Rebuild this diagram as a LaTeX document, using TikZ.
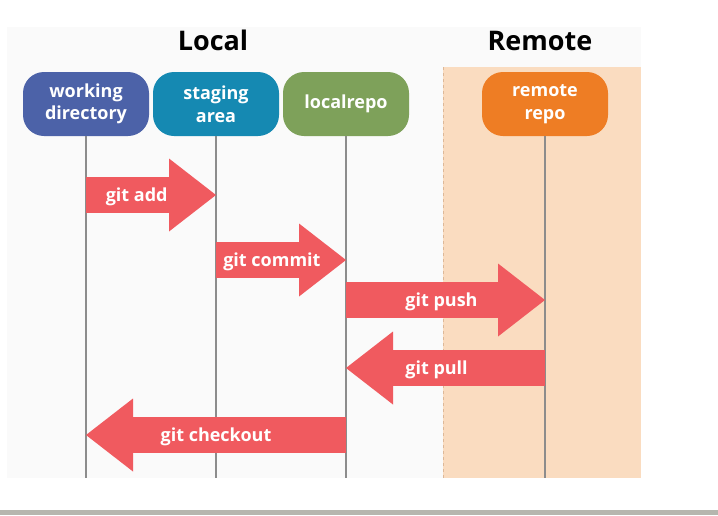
\documentclass[tikz,border=0pt]{standalone}
\usepackage{fontspec}
\setmainfont{Open Sans}
\usetikzlibrary{arrows.meta}
\definecolor{panelgray}{HTML}{FAFAFA}
\definecolor{remotebg}{HTML}{FADCC0}
\definecolor{remoteedge}{HTML}{DDB898}
\definecolor{wdblue}{HTML}{4C62A8}
\definecolor{sateal}{HTML}{1589B2}
\definecolor{lrgreen}{HTML}{7EA15A}
\definecolor{rrorange}{HTML}{EE7D24}
\definecolor{gitred}{HTML}{F05A5F}
\definecolor{lifegray}{HTML}{8C8C8C}
\definecolor{bargray}{HTML}{B6B6AE}
\begin{document}
\begin{tikzpicture}[x=1pt,y=-1pt,
    repo/.style={rounded corners=21pt,minimum width=126pt,minimum height=64pt,
      text=white,align=center,font=\fontsize{18}{22.5}\selectfont\bfseries},
    title/.style={anchor=base,font=\fontsize{27}{32}\selectfont\bfseries},
    lifeline/.style={draw=lifegray,line width=1.2pt},
    gitarrow/.style={draw=gitred,line width=36pt,
      -{Triangle[length=47pt,width=73pt,line width=0pt]}},
    gitlabel/.style={text=white,yshift=-2pt,font=\fontsize{18}{22}\selectfont\bfseries}]
    \useasboundingbox (0,0) rectangle (718,515);
    % panels
    \fill[panelgray] (7,27) rectangle (641,478);
    \fill[remotebg] (443,67) rectangle (641,478);
    \draw[remoteedge,dashed] (443,67) -- (443,478);
    \fill[bargray] (0,510) rectangle (718,515);
    \node[title] (local) at (213,50) {Local};
    \node[title] (remote) at (540,50) {Remote};
    % repositories
    \node[repo,fill=wdblue] (wd) at (86,104) {working\\directory};
    \node[repo,fill=sateal] (sa) at (216,104) {staging\\area};
    \node[repo,fill=lrgreen] (lr) at (346,104) {localrepo};
    \node[repo,fill=rrorange] (rr) at (545,104) {remote\\repo};
    \coordinate (bottom) at (0,478);
    \draw[lifeline] (wd.south) -- (wd.south |- bottom);
    \draw[lifeline] (sa.south) -- (sa.south |- bottom);
    \draw[lifeline] (lr.south) -- (lr.south |- bottom);
    \draw[lifeline] (rr.south) -- (rr.south |- bottom);
    % commands
    \draw[gitarrow] (wd.south |- 0,195) -- node[gitlabel,pos=.39] {git add} (sa.south |- 0,195);
    \draw[gitarrow] (sa.south |- 0,260) -- node[gitlabel,pos=.43] {git commit} (lr.south |- 0,260);
    \draw[gitarrow] (lr.south |- 0,300) -- node[gitlabel,pos=.48] {git push} (rr.south |- 0,300);
    \draw[gitarrow] (rr.south |- 0,368) -- node[gitlabel,pos=.545] {git pull} (lr.south |- 0,368);
    \draw[gitarrow] (lr.south |- 0,435) -- node[gitlabel,pos=.5] {git checkout} (wd.south |- 0,435);
\end{tikzpicture}
\end{document}
